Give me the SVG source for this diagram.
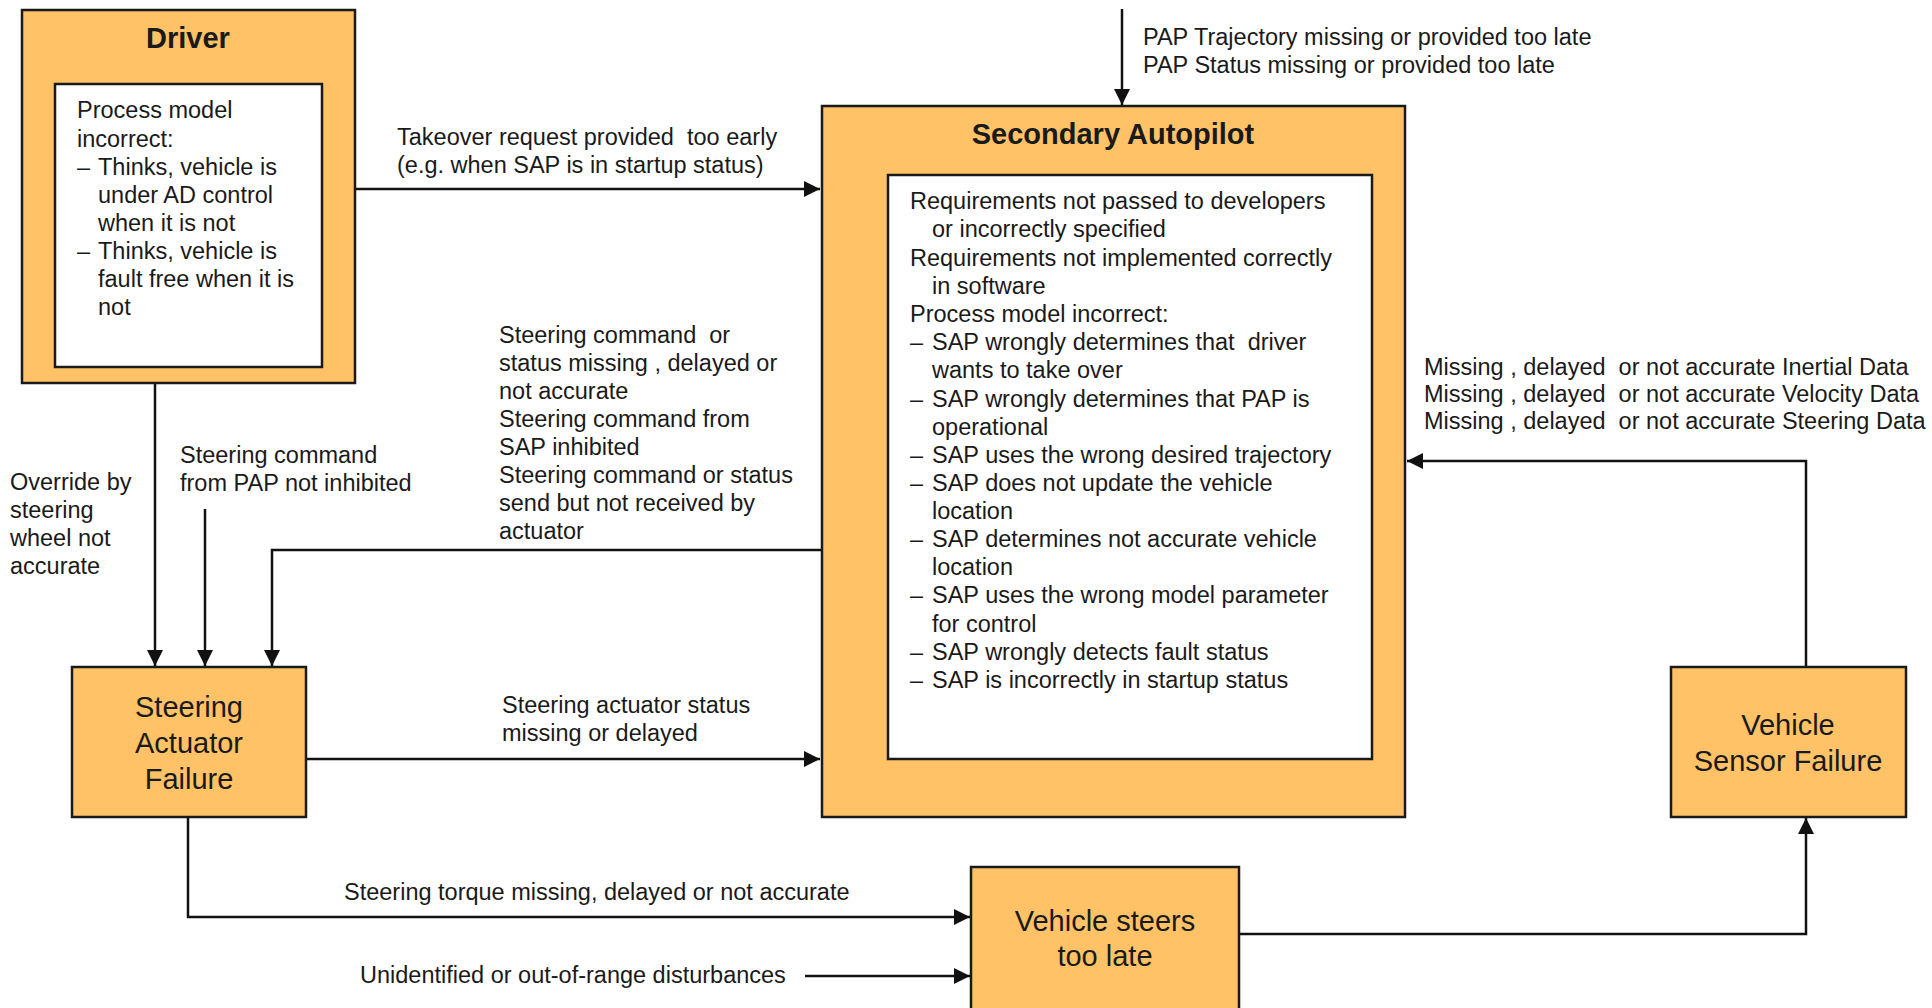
<svg xmlns="http://www.w3.org/2000/svg" width="1932" height="1008" viewBox="0 0 1932 1008">
<style>
.box{fill:#FFC266;stroke:#1a1a1a;stroke-width:2.5}
.inner{fill:#ffffff;stroke:#1a1a1a;stroke-width:2.5}
.t{font-family:"Liberation Sans",Arial,sans-serif;font-size:23.5px;fill:#1a1a1a}
.title{font-family:"Liberation Sans",Arial,sans-serif;font-size:29px;font-weight:bold;fill:#1a1a1a;text-anchor:middle}
.lbl{font-family:"Liberation Sans",Arial,sans-serif;font-size:29px;fill:#1a1a1a;text-anchor:middle}
.c{fill:none;stroke:#111;stroke-width:2.5}
</style>
<defs>
<marker id="arr" viewBox="0 0 16 16" refX="16" refY="8" markerWidth="16" markerHeight="16" markerUnits="userSpaceOnUse" orient="auto">
<path d="M0,0 L16,8 L0,16 z" fill="#111"/>
</marker>
</defs>

<g id="connectors">
<path class="c" d="M355,189 H820" marker-end="url(#arr)"/>
<path class="c" d="M1122,9 V105" marker-end="url(#arr)"/>
<path class="c" d="M155,383 V666" marker-end="url(#arr)"/>
<path class="c" d="M205,509 V666" marker-end="url(#arr)"/>
<path class="c" d="M822,550 H272 V666" marker-end="url(#arr)"/>
<path class="c" d="M306,759 H820" marker-end="url(#arr)"/>
<path class="c" d="M188,817 V917 H970" marker-end="url(#arr)"/>
<path class="c" d="M805,976 H970" marker-end="url(#arr)"/>
<path class="c" d="M1239,934 H1806 V818" marker-end="url(#arr)"/>
<path class="c" d="M1806,667 V461 H1407" marker-end="url(#arr)"/>
</g>

<g id="edge-labels">
<text class="t" xml:space="preserve"><tspan x="397" y="145">Takeover request provided  too early</tspan><tspan x="397" y="173">(e.g. when SAP is in startup status)</tspan></text>
<text class="t"><tspan x="1143" y="45">PAP Trajectory missing or provided too late</tspan><tspan x="1143" y="73">PAP Status missing or provided too late</tspan></text>
<text class="t"><tspan x="10" y="490">Override by</tspan><tspan x="10" y="518">steering</tspan><tspan x="10" y="546">wheel not</tspan><tspan x="10" y="574">accurate</tspan></text>
<text class="t"><tspan x="180" y="463">Steering command</tspan><tspan x="180" y="491">from PAP not inhibited</tspan></text>
<text class="t" xml:space="preserve"><tspan x="499" y="343">Steering command  or</tspan><tspan x="499" y="371">status missing , delayed or</tspan><tspan x="499" y="399">not accurate</tspan><tspan x="499" y="427">Steering command from</tspan><tspan x="499" y="455">SAP inhibited</tspan><tspan x="499" y="483">Steering command or status</tspan><tspan x="499" y="511">send but not received by</tspan><tspan x="499" y="539">actuator</tspan></text>
<text class="t"><tspan x="502" y="713">Steering actuator status</tspan><tspan x="502" y="741">missing or delayed</tspan></text>
<text class="t" x="344" y="900">Steering torque missing, delayed or not accurate</text>
<text class="t" x="360" y="983">Unidentified or out-of-range disturbances</text>
<text class="t" xml:space="preserve"><tspan x="1424" y="375">Missing , delayed  or not accurate Inertial Data</tspan><tspan x="1424" y="402">Missing , delayed  or not accurate Velocity Data</tspan><tspan x="1424" y="429">Missing , delayed  or not accurate Steering Data</tspan></text>
</g>

<g id="driver">
<rect class="box" x="22" y="10" width="333" height="373"/>
<text class="title" x="188" y="48">Driver</text>
<rect class="inner" x="55" y="84" width="267" height="283"/>
<text class="t"><tspan x="77" y="118">Process model</tspan><tspan x="77" y="147">incorrect:</tspan></text>
<text class="t"><tspan x="77" y="175">–</tspan><tspan x="77" y="259">–</tspan></text>
<text class="t"><tspan x="98" y="175">Thinks, vehicle is</tspan><tspan x="98" y="203">under AD control</tspan><tspan x="98" y="231">when it is not</tspan><tspan x="98" y="259">Thinks, vehicle is</tspan><tspan x="98" y="287">fault free when it is</tspan><tspan x="98" y="315">not</tspan></text>
</g>

<g id="secondary-autopilot">
<rect class="box" x="822" y="106" width="583" height="711"/>
<text class="title" x="1113" y="144">Secondary Autopilot</text>
<rect class="inner" x="888" y="175" width="484" height="584"/>
<text class="t"><tspan x="910" y="209">Requirements not passed to developers</tspan><tspan x="932" y="237">or incorrectly specified</tspan><tspan x="910" y="266">Requirements not implemented correctly</tspan><tspan x="932" y="294">in software</tspan><tspan x="910" y="322">Process model incorrect:</tspan></text>
<text class="t"><tspan x="910" y="350">–</tspan><tspan x="910" y="407">–</tspan><tspan x="910" y="463">–</tspan><tspan x="910" y="491">–</tspan><tspan x="910" y="547">–</tspan><tspan x="910" y="603">–</tspan><tspan x="910" y="660">–</tspan><tspan x="910" y="688">–</tspan></text>
<text class="t" xml:space="preserve"><tspan x="932" y="350">SAP wrongly determines that  driver</tspan><tspan x="932" y="378">wants to take over</tspan><tspan x="932" y="407">SAP wrongly determines that PAP is</tspan><tspan x="932" y="435">operational</tspan><tspan x="932" y="463">SAP uses the wrong desired trajectory</tspan><tspan x="932" y="491">SAP does not update the vehicle</tspan><tspan x="932" y="519">location</tspan><tspan x="932" y="547">SAP determines not accurate vehicle</tspan><tspan x="932" y="575">location</tspan><tspan x="932" y="603">SAP uses the wrong model parameter</tspan><tspan x="932" y="632">for control</tspan><tspan x="932" y="660">SAP wrongly detects fault status</tspan><tspan x="932" y="688">SAP is incorrectly in startup status</tspan></text>
</g>

<g id="steering-actuator-failure">
<rect class="box" x="72" y="667" width="234" height="150"/>
<text class="lbl"><tspan x="189" y="717">Steering</tspan><tspan x="189" y="753">Actuator</tspan><tspan x="189" y="789">Failure</tspan></text>
</g>

<g id="vehicle-steers-too-late">
<rect class="box" x="971" y="867" width="268" height="160"/>
<text class="lbl"><tspan x="1105" y="931">Vehicle steers</tspan><tspan x="1105" y="966">too late</tspan></text>
</g>

<g id="vehicle-sensor-failure">
<rect class="box" x="1671" y="667" width="235" height="150"/>
<text class="lbl"><tspan x="1788" y="735">Vehicle</tspan><tspan x="1788" y="771">Sensor Failure</tspan></text>
</g>
</svg>
